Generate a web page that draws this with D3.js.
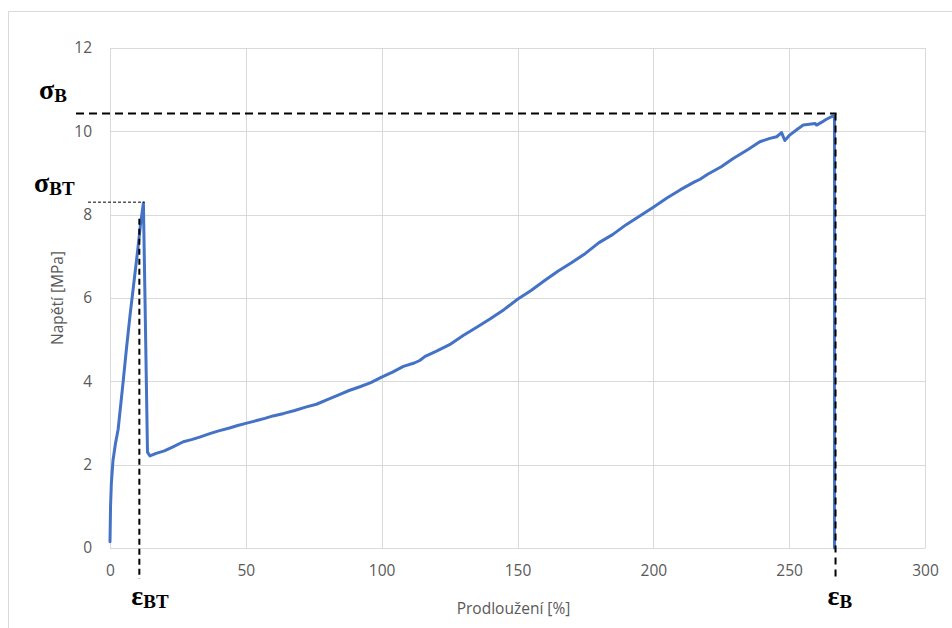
<!DOCTYPE html>
<html>
<head>
<meta charset="utf-8">
<script src="https://cdn.jsdelivr.net/npm/d3@7/dist/d3.min.js"></script>
<style>
  html, body { margin: 0; padding: 0; background: #fff; }
  svg { display: block; }
  .tick text { font-family: "Open Sans", "Liberation Sans", sans-serif; fill: #595959; }
</style>
</head>
<body>
<svg id="chart" width="952" height="628"></svg>
<script>
// Tensile test: stress vs. elongation
const strain = [0, 0.2, 0.5, 1.1, 2, 3, 4.9, 6, 7.4, 8.6, 10.2, 11.2, 12.3, 13.0, 13.8, 14.7,
  17, 20, 23, 27, 30, 33, 37, 40, 44, 47, 50, 54, 57, 60, 64, 68, 72, 76, 80, 84, 88, 92, 96,
  100, 104, 108, 112, 114, 116, 120, 125, 130, 135, 140, 145, 150, 155, 160, 165, 170, 175,
  180, 185, 190, 195, 200, 205, 210, 215, 217.2, 220, 225, 229.4, 235, 239.2, 242.9, 245.4,
  247.2, 248.4, 250.2, 253, 255.2, 257.5, 259.5, 260.1, 262, 263.7, 266.2, 266.7, 266.7];
const stress = [0.15, 1.0, 1.55, 2.1, 2.5, 2.85, 4.03, 4.75, 5.6, 6.26, 7.15, 7.75, 8.28, 5.5, 2.3, 2.21,
  2.27, 2.33, 2.42, 2.55, 2.6, 2.66, 2.75, 2.81, 2.88, 2.94, 2.99, 3.06, 3.11, 3.17, 3.23, 3.3, 3.38, 3.45, 3.56, 3.67, 3.78, 3.87, 3.97,
  4.1, 4.22, 4.36, 4.44, 4.5, 4.6, 4.72, 4.88, 5.1, 5.3, 5.5, 5.72, 5.97, 6.18, 6.42, 6.65, 6.85, 7.07,
  7.33, 7.52, 7.76, 7.97, 8.18, 8.4, 8.6, 8.78, 8.85, 8.97, 9.15, 9.35, 9.57, 9.75, 9.83, 9.87,
  9.97, 9.78, 9.91, 10.05, 10.15, 10.17, 10.19, 10.15, 10.22, 10.29, 10.37, 10.35, 0];

const xTicks = [0, 50, 100, 150, 200, 250, 300];
const yTicks = [0, 2, 4, 6, 8, 10, 12];

// Characteristic points
const sigmaB = 10.43, epsB = 266.7;   // tensile strength / elongation at break
const sigmaBT = 8.3, epsBT = 10.8;    // yield point

const svg = d3.select("#chart");
const W = 952, H = 628;
const m = { left: 110, right: 27, top: 48, bottom: 80 };

// chart frame
svg.append("rect").attr("x", 8.5).attr("y", 11.5).attr("width", W).attr("height", H)
  .attr("fill", "none").attr("stroke", "#d9d9d9");

const x = d3.scaleLinear().domain([0, 300]).range([m.left, W - m.right]);
const y = d3.scaleLinear().domain([0, 12]).range([H - m.bottom, m.top]);

// gridlines
svg.append("g").selectAll("line").data(yTicks).join("line")
  .attr("x1", x(0)).attr("x2", x(300))
  .attr("y1", d => Math.round(y(d)) + 0.5).attr("y2", d => Math.round(y(d)) + 0.5)
  .attr("stroke", "#d9d9d9").attr("stroke-width", 1);
svg.append("g").selectAll("line").data(xTicks).join("line")
  .attr("y1", y(0)).attr("y2", y(12))
  .attr("x1", d => Math.round(x(d)) + 0.5).attr("x2", d => Math.round(x(d)) + 0.5)
  .attr("stroke", "#d9d9d9").attr("stroke-width", 1);

// axes (labels only)
const xa = svg.append("g").attr("transform", `translate(0,${y(0)})`)
  .call(d3.axisBottom(x).tickValues(xTicks).tickSize(0).tickPadding(17));
const ya = svg.append("g").attr("transform", `translate(${x(0)},0)`)
  .call(d3.axisLeft(y).tickValues(yTicks).tickSize(0).tickPadding(18));
[xa, ya].forEach(g => {
  g.select(".domain").remove();
  g.selectAll("text").attr("font-size", 15.5);
});

// axis titles
svg.append("text").attr("x", (x(0) + x(300)) / 2 - 4).attr("y", 614)
  .attr("text-anchor", "middle").attr("font-family", "Open Sans, Liberation Sans, sans-serif")
  .attr("font-size", 15.5).attr("fill", "#595959").text("Prodloužení [%]");
svg.append("text").attr("transform", `translate(63,${(y(0) + y(12)) / 2}) rotate(-90)`)
  .attr("text-anchor", "middle").attr("font-family", "Open Sans, Liberation Sans, sans-serif")
  .attr("font-size", 15.5).attr("fill", "#595959").text("Napětí [MPa]");

// data line
const pts = strain.map((s, i) => [s, stress[i]]);
svg.append("path").datum(pts)
  .attr("d", d3.line().x(d => x(d[0])).y(d => y(d[1])))
  .attr("fill", "none").attr("stroke", "#4472C4").attr("stroke-width", 3)
  .attr("stroke-linejoin", "round").attr("stroke-linecap", "round");

// guide lines
const g = svg.append("g").attr("fill", "none").attr("stroke", "#000");
g.append("line").attr("x1", 76).attr("x2", x(epsB) + 2)
  .attr("y1", y(sigmaB)).attr("y2", y(sigmaB))
  .attr("stroke-width", 2).attr("stroke-dasharray", "8,5");
g.append("line").attr("x1", x(epsB) + 1).attr("x2", x(epsB) + 1)
  .attr("y1", y(sigmaB)).attr("y2", y(0) + 32)
  .attr("stroke-width", 2).attr("stroke-dasharray", "7,5");
g.append("line").attr("x1", 88).attr("x2", x(12.8))
  .attr("y1", y(sigmaBT)).attr("y2", y(sigmaBT))
  .attr("stroke-width", 1).attr("stroke-dasharray", "3,2");
g.append("line").attr("x1", x(epsBT)).attr("x2", x(epsBT))
  .attr("y1", y(7.9)).attr("y2", y(0) + 31)
  .attr("stroke-width", 2).attr("stroke-dasharray", "6,4");

// symbol labels
function sym(px, py, main, sub) {
  const t = svg.append("text").attr("x", px).attr("y", py)
    .attr("font-family", "Liberation Serif, DejaVu Serif, serif").attr("font-weight", "bold")
    .attr("font-size", 28).attr("fill", "#000");
  t.append("tspan").text(main);
  t.append("tspan").attr("dy", 3).attr("font-size", 19).text(sub);
}
sym(39, y(sigmaB) - 14, "σ", "B");
sym(34, y(sigmaBT) - 10, "σ", "BT");
sym(x(epsBT) - 8, 605, "ε", "BT");
sym(x(epsB) - 7, 605, "ε", "B");
</script>
</body>
</html>
